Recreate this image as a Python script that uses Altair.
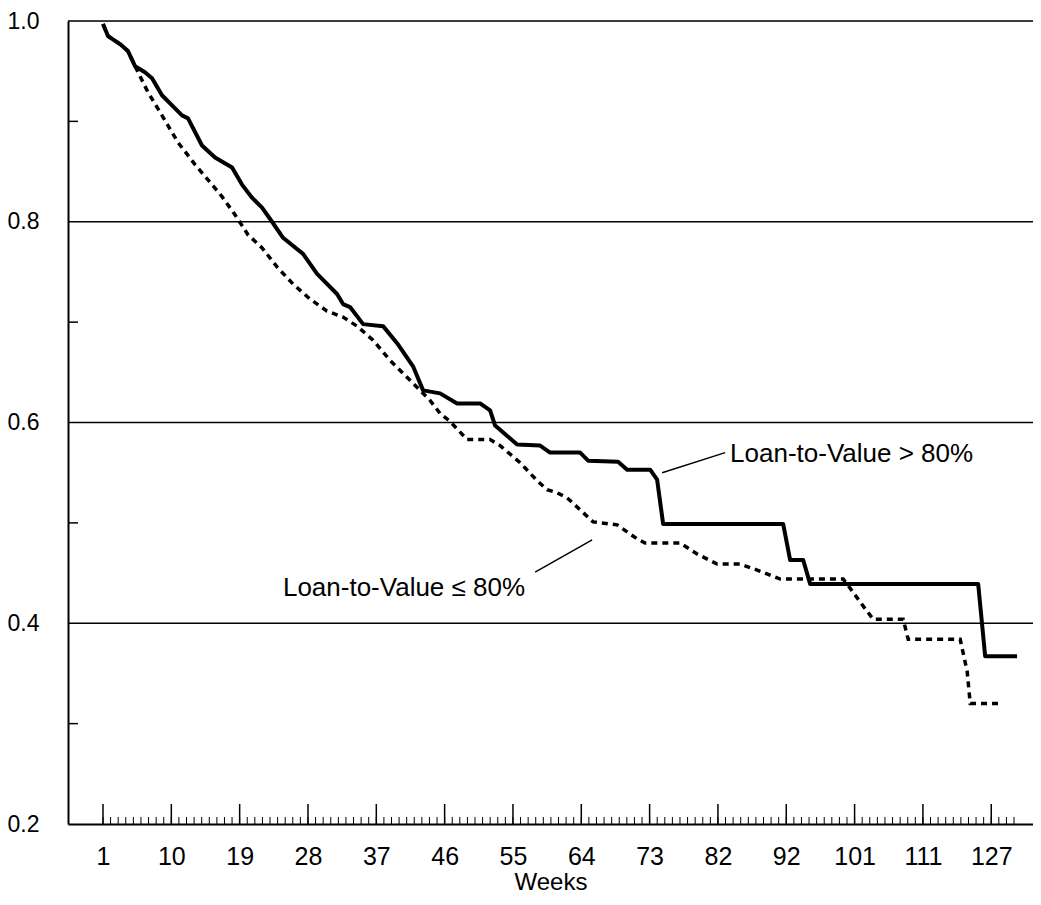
import altair as alt
import pandas as pd

# ---- data (x = position of the week category, y = survival share) ----
week_labels = [1, 10, 19, 28, 37, 46, 55, 64, 73, 82, 92, 101, 111, 127]
label_positions = [0, 9, 18, 27, 36, 45, 54, 63, 72, 81, 90, 99, 108, 117]
n_categories = 121

high_x = [0, 0.66, 2.24, 3.29, 4.22, 5.53, 6.46, 7.77, 9.49, 10.41, 11.2, 13.04, 14.76, 17.0,
          18.31, 19.63, 20.95, 22.27, 23.72, 26.35, 28.2, 30.83, 31.62, 32.54, 34.26, 36.89,
          38.74, 40.84, 42.16, 44.4, 46.64, 49.67, 50.99, 51.65, 54.55, 57.58, 58.89, 62.85,
          63.9, 67.85, 69.04, 72.07, 72.99, 73.78, 89.59, 90.51, 92.23, 93.15, 115.28, 116.2, 120.4]
high_y = [0.997, 0.985, 0.977, 0.970, 0.955, 0.949, 0.943, 0.926, 0.913, 0.906, 0.903, 0.876, 0.864, 0.854,
          0.837, 0.824, 0.814, 0.800, 0.784, 0.768, 0.748, 0.728, 0.718, 0.715, 0.698, 0.696,
          0.679, 0.656, 0.632, 0.629, 0.619, 0.619, 0.612, 0.597, 0.578, 0.577, 0.570, 0.570,
          0.562, 0.561, 0.553, 0.553, 0.543, 0.499, 0.499, 0.463, 0.463, 0.439, 0.439, 0.367, 0.367]

low_x = [0, 0.66, 2.24, 3.29, 4.22, 5.93, 7.77, 9.88, 12.12, 14.36, 15.68, 17.39, 19.1, 20.95,
         22.92, 25.03, 27.27, 29.51, 31.62, 33.47, 35.57, 37.81, 40.45, 43.08, 44.4, 45.72,
         47.96, 50.99, 52.31, 54.94, 57.18, 58.5, 59.82, 61.13, 62.85, 64.56, 67.72, 70.36,
         71.4, 76.02, 78.26, 80.9, 83.93, 86.17, 89.2, 97.5, 98.8, 99.74, 101.45, 105.4,
         106.06, 112.91, 113.83, 114.23, 118.18]
low_y = [0.997, 0.985, 0.977, 0.970, 0.955, 0.929, 0.906, 0.879, 0.857, 0.837, 0.825, 0.807, 0.787, 0.774,
         0.755, 0.738, 0.723, 0.711, 0.705, 0.696, 0.682, 0.662, 0.642, 0.622, 0.609, 0.601,
         0.583, 0.583, 0.577, 0.560, 0.542, 0.533, 0.530, 0.525, 0.513, 0.501, 0.498, 0.484,
         0.480, 0.480, 0.469, 0.459, 0.459, 0.453, 0.444, 0.444, 0.431, 0.421, 0.404, 0.404,
         0.384, 0.384, 0.352, 0.320, 0.320]

grid_values = [0.4, 0.6, 0.8, 1.0]
y_label_values = [0.2, 0.4, 0.6, 0.8, 1.0]
y_minor_values = [0.3, 0.5, 0.7, 0.9]

label_high = "Loan-to-Value > 80%"
label_low = "Loan-to-Value \u2264 80%"

# ---- layout ----
W, H = 965, 803
FONT = "Liberation Sans"
xscale = alt.Scale(domain=[-4.61, 122.5], nice=False, zero=False)
yscale = alt.Scale(domain=[0.2, 1.0], nice=False, zero=False)

label_expr = "[" + ",".join("'%d'" % w for w in week_labels) + "][round(datum.value / 9)]"

high_df = pd.DataFrame({"idx": high_x, "v": high_y})
low_df = pd.DataFrame({"idx": low_x, "v": low_y})
grid_df = pd.DataFrame({"v": grid_values})
yminor_df = pd.DataFrame({"v": y_minor_values})
xminor_df = pd.DataFrame({"idx": list(range(n_categories))})
xmajor_df = pd.DataFrame({"idx": label_positions})

x_axis = alt.Axis(values=label_positions, labelExpr=label_expr, tickSize=0, grid=False,
                  domainColor="black", domainWidth=2, labelFontSize=25, labelColor="black",
                  labelPadding=20, title="Weeks", titleFontSize=24, titleFontWeight="normal",
                  titleColor="black", titlePadding=1, labelFont=FONT, titleFont=FONT)
y_axis = alt.Axis(values=y_label_values, format=".1f", tickSize=0, grid=False,
                  domainColor="black", domainWidth=2, labelFontSize=23, labelColor="black",
                  labelPadding=29, title=None, labelFont=FONT)


def X(field="idx:Q"):
    return alt.X(field, scale=xscale, axis=x_axis)


def Y(field="v:Q"):
    return alt.Y(field, scale=yscale, axis=y_axis)


high_line = alt.Chart(high_df).mark_line(color="black", strokeWidth=4, strokeJoin="round").encode(
    x=X(), y=Y())
low_line = alt.Chart(low_df).mark_line(color="black", strokeWidth=3.5, strokeDash=[6, 5]).encode(
    x=X(), y=Y())

grid = alt.Chart(grid_df).mark_rule(color="black", strokeWidth=1.6).encode(
    y=Y(), x=alt.value(0), x2=alt.value(W))

y_minor = alt.Chart(yminor_df).mark_rule(color="black", strokeWidth=1.5).encode(
    y=Y(), x=alt.value(0), x2=alt.value(10))

x_minor = alt.Chart(xminor_df).mark_rule(color="black", strokeWidth=1).encode(
    x=X(), y=alt.value(H), y2=alt.value(H - 7))
x_major = alt.Chart(xmajor_df).mark_rule(color="black", strokeWidth=1.5).encode(
    x=X(), y=alt.value(H), y2=alt.value(H - 20))

text_high = alt.Chart().mark_text(align="left", baseline="middle", fontSize=26, font=FONT,
                                  color="black").encode(
    x=alt.datum(82.6), y=alt.datum(0.569), text=alt.value(label_high))
text_low = alt.Chart().mark_text(align="left", baseline="middle", fontSize=26, font=FONT,
                                 color="black").encode(
    x=alt.datum(23.7), y=alt.datum(0.435), text=alt.value(label_low))

lead_high = alt.Chart().mark_rule(color="black", strokeWidth=1.5).encode(
    x=alt.datum(73.65), y=alt.datum(0.550), x2=alt.datum(81.95), y2=alt.datum(0.570))
lead_low = alt.Chart().mark_rule(color="black", strokeWidth=1.5).encode(
    x=alt.datum(56.92), y=alt.datum(0.451), x2=alt.datum(64.43), y2=alt.datum(0.483))

chart = alt.layer(
    high_line, low_line, grid, y_minor, x_minor, x_major, lead_high, lead_low, text_high, text_low
).properties(
    width=W, height=H,
    autosize=alt.AutoSizeParams(type="none"),
    padding={"left": 60, "top": 13, "right": 0, "bottom": 73},
).configure_view(stroke=None).configure(background="white", font=FONT)

chart.save("out.html", embed_options={"renderer": "svg", "actions": False})
